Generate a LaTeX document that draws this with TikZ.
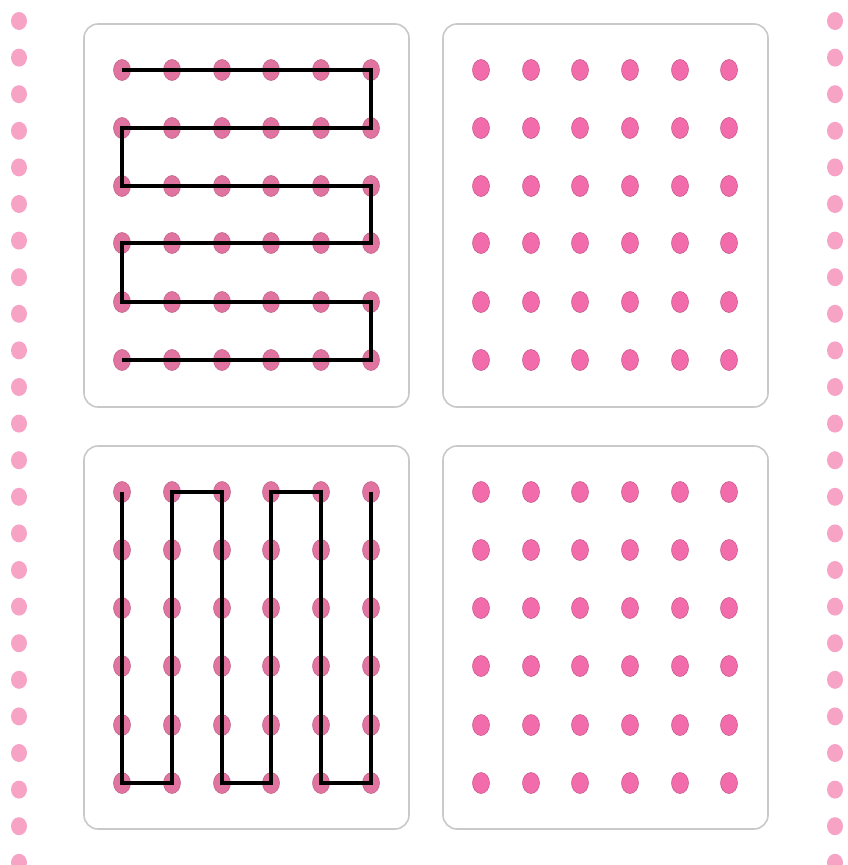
\documentclass[tikz,border=0pt]{standalone}
\usetikzlibrary{shapes.geometric}
\definecolor{sidepink}{HTML}{F7A3C6}
\definecolor{dotpink}{HTML}{F26CAB}
\definecolor{mutedpink}{HTML}{E0739F}
\definecolor{panelgray}{HTML}{C9C9C9}
\tikzset{
  sidedot/.style={ellipse, fill=sidepink, minimum width=16pt, minimum height=18pt, inner sep=0pt},
  griddot/.style={ellipse, fill=dotpink, draw=dotpink!80!black, line width=0.5pt, minimum width=17pt, minimum height=21pt, inner sep=0pt},
  usedot/.style={ellipse, fill=mutedpink, draw=mutedpink!85!black, line width=0.5pt, minimum width=17pt, minimum height=21pt, inner sep=0pt},
  panel/.style={rectangle, rounded corners=14pt, draw=panelgray, line width=1.6pt, fill=white, minimum width=325pt, minimum height=383pt, inner sep=0pt},
  trail/.style={draw=black, line width=3.9pt, line join=miter, line cap=butt}
}
\begin{document}
\begin{tikzpicture}[x=1pt,y=-1pt]
\useasboundingbox[fill=white] (0,0) rectangle (848,865);
% side dots
\foreach \k in {0,...,23}{
  \node[sidedot] (l\k) at (19,{21+36.6*\k}) {};
  \node[sidedot] (r\k) at (835,{21+36.6*\k}) {};
}
% panels
\node[panel] (p1) at (246.5,215.5) {};
\node[panel] (p2) at (605.5,215.5) {};
\node[panel] (p3) at (246.5,637.5) {};
\node[panel] (p4) at (605.5,637.5) {};
% dots
\foreach \x [count=\i] in {122,172,222,271,321,371}{
  \foreach \y [count=\j] in {70,128,186,243,302,360}{
    \node[usedot] (a-\i-\j) at (\x,\y) {};
  }
  \foreach \y [count=\j] in {492,550,608,666,725,783}{
    \node[usedot] (c-\i-\j) at (\x,\y) {};
  }
}
\foreach \x [count=\i] in {481,531,580,630,680,729}{
  \foreach \y [count=\j] in {70,128,186,243,302,360}{
    \node[griddot] (b-\i-\j) at (\x,\y) {};
  }
  \foreach \y [count=\j] in {492,550,608,666,725,783}{
    \node[griddot] (d-\i-\j) at (\x,\y) {};
  }
}
% horizontal snake
\draw[trail] (a-1-1.center) -- (a-6-1.center) -- (a-6-2.center) -- (a-1-2.center)
  -- (a-1-3.center) -- (a-6-3.center) -- (a-6-4.center) -- (a-1-4.center)
  -- (a-1-5.center) -- (a-6-5.center) -- (a-6-6.center) -- (a-1-6.center);
% vertical snake
\draw[trail] (c-1-1.center) -- (c-1-6.center) -- (c-2-6.center) -- (c-2-1.center)
  -- (c-3-1.center) -- (c-3-6.center) -- (c-4-6.center) -- (c-4-1.center)
  -- (c-5-1.center) -- (c-5-6.center) -- (c-6-6.center) -- (c-6-1.center);
\end{tikzpicture}
\end{document}
